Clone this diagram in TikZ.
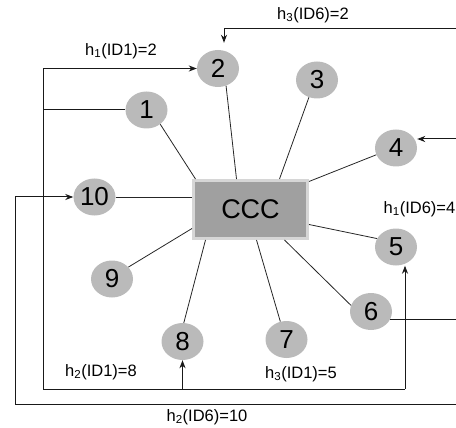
\documentclass[tikz,border=0pt]{standalone}
\usepackage{fontspec}
\setmainfont{Liberation Sans}
\usetikzlibrary{arrows.meta,calc,shapes.geometric}
\definecolor{circfill}{RGB}{186,186,186}
\definecolor{boxfill}{RGB}{160,160,160}
\definecolor{boxedge}{RGB}{214,214,214}
\tikzset{
  circ/.style={ellipse,fill=circfill,minimum width=42pt,minimum height=37pt,inner sep=0pt,font=\fontsize{26}{26}\selectfont},
  cccbox/.style={rectangle,fill=boxfill,draw=boxedge,line width=3pt,minimum width=114pt,minimum height=58pt,inner sep=0pt,font=\fontsize{27}{27}\selectfont},
  spoke/.style={draw=black!85,line width=0.8pt},
  plain/.style={draw=black!90,line width=1pt},
  arr/.style={plain,-{Stealth[length=8pt,width=6pt,inset=2.5pt]}},
  lbl/.style={inner sep=0pt,font=\fontsize{16.5}{17}\selectfont}
}
\begin{document}
\begin{tikzpicture}[x=1pt,y=-1pt]
\useasboundingbox (0,0) rectangle (456,428);
% nodes
\node[cccbox] (ccc) at (250.5,209.5) {CCC};
\node[circ] (n1) at (146.5,110) {1};
\node[circ] (n2) at (218,68.5) {2};
\node[circ] (n3) at (317,80) {3};
\node[circ] (n4) at (396,148) {4};
\node[circ] (n5) at (396,247) {5};
\node[circ] (n6) at (371,311.5) {6};
\node[circ] (n7) at (286.5,339.5) {7};
\node[circ] (n8) at (182.5,341.5) {8};
\node[circ] (n9) at (112,279) {9};
\node[circ] (n10) at (94.5,197) {10};
% spokes
\draw[spoke] (n1.-46) -- ($(ccc.north west)+(3.5,0)$);
\draw[spoke] (n2.-65) -- ($(ccc.north west)+(44.5,0)$);
\draw[spoke] (n3.-115) -- ($(ccc.north west)+(87.5,0)$);
\draw[spoke] (n4.-161) -- ($(ccc.north east)+(0,2.5)$);
\draw[spoke] (n10.east) -- (n10.east -| ccc.west);
\draw[spoke] (n9.36) -- ($(ccc.south west)+(0,-11.5)$);
\draw[spoke] (n5.156) -- ($(ccc.south east)+(0,-15.5)$);
\draw[spoke] (n6.163) -- ($(ccc.south east)+(-24.5,0)$);
\draw[spoke] (n7.109) -- ($(ccc.south west)+(64.5,0)$);
\draw[spoke] (n8.86) -- ($(ccc.south west)+(13.5,0)$);
% frame coordinates
\coordinate (lA) at (43,70);
\coordinate (lB) at (43,389);
\coordinate (rA) at (405,389);
\coordinate (rT) at (456,29);
\coordinate (r4) at (456,139);
\coordinate (r6) at (456,321);
\coordinate (rB) at (456,404);
\coordinate (l10) at (15,404);
% ID1 feedback
\draw[plain] (n1.west) -| (lB) -- (rA);
\draw[arr] (n1.west -| lA) |- (n2.west);
\draw[arr] (lB -| n8.south) -- (n8.south);
\draw[arr] (rA) -- (rA |- n5.south);
% ID6 feedback
\draw[arr,shorten >=7pt] (rT) -| ([xshift=6pt]n2.north);
\draw[arr] (r4) -- (r4 -| n4.east);
\draw[plain] (n6.-24) -- (r6 |- n6.-24);
\draw[arr] (rB) -- (l10) |- (n10.west);
% labels
\node[lbl] (t1) at (313,15) {h\textsubscript{3}(ID6)=2};
\node[lbl] (t2) at (121,51) {h\textsubscript{1}(ID1)=2};
\node[lbl] (t3) at (419.5,209) {h\textsubscript{1}(ID6)=4};
\node[lbl] (t4) at (101,372) {h\textsubscript{2}(ID1)=8};
\node[lbl] (t5) at (301,374) {h\textsubscript{3}(ID1)=5};
\node[lbl] (t6) at (207,417) {h\textsubscript{2}(ID6)=10};
\end{tikzpicture}
\end{document}
